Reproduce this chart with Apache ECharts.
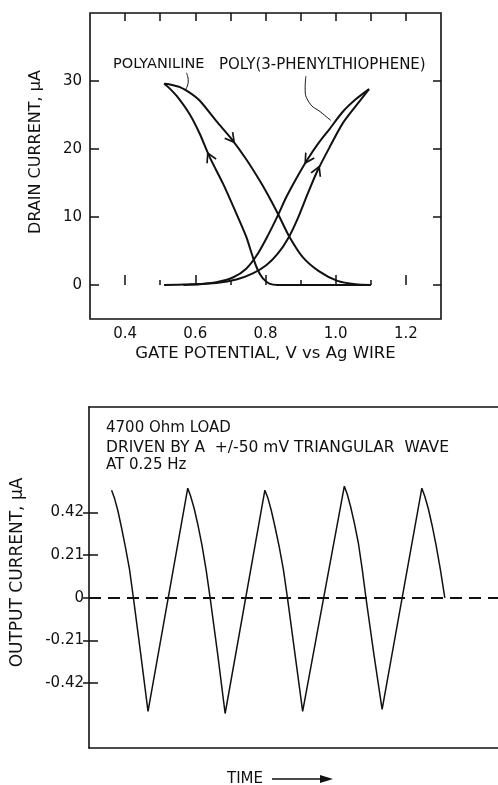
<!DOCTYPE html>
<html>
<head>
<meta charset="utf-8">
<script src="https://cdn.jsdelivr.net/npm/echarts@6/dist/echarts.min.js"></script>
<style>
  html, body { margin: 0; padding: 0; background: #fff; }
  #chart { width: 498px; height: 785px; }
</style>
</head>
<body>
<div id="chart"></div>
<script>
// 上图：聚苯胺回线（外侧下降支 / 内侧上升支）
var paniOutX = [0.511, 0.528, 0.556, 0.584, 0.613, 0.660, 0.703, 0.745, 0.783, 0.816, 0.840, 0.868, 0.906, 0.953, 1.005, 1.057, 1.100]
var paniOutY = [29.6, 29.5, 29.1, 28.3, 27.1, 24.1, 21.5, 18.5, 15.4, 12.4, 10.0, 7.1, 4.1, 2.0, 0.6, 0.1, 0]
var paniInX = [1.100, 0.950, 0.835, 0.811, 0.792, 0.778, 0.764, 0.745, 0.717, 0.679, 0.641, 0.613, 0.584, 0.547, 0.523, 0.511]
var paniInY = [0, 0, 0, 0.2, 1.0, 2.2, 4.1, 7.1, 10.5, 14.9, 18.8, 22.2, 25.1, 27.8, 29.1, 29.6]
// 聚(3-苯基噻吩)回线（上升支 / 下降支）
var p3ptUpX = [0.511, 0.584, 0.660, 0.717, 0.764, 0.802, 0.835, 0.866, 0.892, 0.920, 0.948, 0.982, 1.019, 1.057, 1.095]
var p3ptUpY = [0, 0.1, 0.3, 0.8, 1.7, 2.9, 4.6, 7.0, 9.8, 13.4, 16.8, 20.2, 23.7, 26.3, 28.8]
var p3ptDownX = [1.095, 1.057, 1.019, 0.982, 0.953, 0.920, 0.887, 0.859, 0.835, 0.807, 0.778, 0.745, 0.707, 0.660, 0.613, 0.566]
var p3ptDownY = [28.8, 27.3, 25.4, 22.9, 21.0, 18.5, 15.6, 12.9, 10.2, 7.3, 4.6, 2.4, 1.1, 0.4, 0.1, 0]
// 标注引线
var lead1X = [0.575, 0.580, 0.571]
var lead1Y = [31.2, 30.0, 28.6]
var lead2X = [0.915, 0.913, 0.925, 0.958, 0.986]
var lead2Y = [30.7, 29.0, 26.8, 25.4, 24.2]
// 刻度
var gateTicks = [0.4, 0.6, 0.8, 1.0, 1.2]
var gateMinor = [0.5, 0.7, 0.9, 1.1]
var gateTop = [0.4, 0.5, 0.6, 0.7, 0.8, 0.9, 1.0, 1.1, 1.2]
var drainTicks = [0, 10, 20, 30]

// 下图：输出电流随时间（三角波驱动）
var waveT = [1.16, 1.31, 1.48, 1.66, 1.87, 2.08, 2.28, 2.66, 3.03,
  5.07, 5.22, 5.40, 5.59, 5.80, 6.01, 6.22, 6.61, 6.99,
  9.03, 9.19, 9.36, 9.55, 9.77, 9.98, 10.19, 10.58, 10.97,
  13.11, 13.26, 13.43, 13.62, 13.83, 14.03, 14.22, 14.63, 15.05,
  17.09, 17.24, 17.42, 17.61, 17.82, 18.04, 18.27]
var waveI = [0.53, 0.49, 0.43, 0.35, 0.25, 0.14, 0.00, -0.28, -0.56,
  0.54, 0.50, 0.44, 0.36, 0.26, 0.14, 0.00, -0.28, -0.57,
  0.53, 0.49, 0.43, 0.35, 0.25, 0.14, 0.00, -0.28, -0.56,
  0.55, 0.51, 0.45, 0.37, 0.27, 0.14, 0.00, -0.28, -0.55,
  0.54, 0.50, 0.44, 0.36, 0.26, 0.14, 0.00]
var outTicks = [-0.42, -0.21, 0, 0.21, 0.42]

function pairs(xs, ys) {
  return xs.map(function (x, i) { return [x, ys[i]] })
}

var FONT = 'DejaVu Sans'
var INK = '#111'
var chevron = 'path://M0,10 L5,0 L10,10'

function arrows(list) {
  return {
    symbol: chevron,
    symbolSize: [10, 9],
    silent: true,
    itemStyle: { color: 'none', borderColor: INK, borderWidth: 1.6 },
    label: { show: false },
    data: list
  }
}

function curve(name, data, extra) {
  var s = {
    name: name,
    type: 'line',
    xAxisIndex: 0,
    yAxisIndex: 0,
    data: data,
    symbol: 'none',
    smooth: 0.25,
    silent: true,
    lineStyle: { color: INK, width: 2 }
  }
  return Object.assign(s, extra || {})
}

var tickOff = { show: false }
var frame = { show: true, onZero: false, lineStyle: { color: INK, width: 1.6 } }
var chart = echarts.init(document.getElementById('chart'))

chart.setOption({
  animation: false,
  backgroundColor: '#fff',
  textStyle: { fontFamily: FONT },
  grid: [
    { left: 90, top: 13, right: 57, bottom: 466, show: true, borderColor: INK, borderWidth: 1.6 },
    // 下图右边框在画面外，只画左、上、下三条边
    { left: 89, top: 407, right: 0, bottom: 37 }
  ],
  xAxis: [
    {
      gridIndex: 0, type: 'value', min: 0.3, max: 1.3, position: 'bottom',
      name: 'GATE POTENTIAL, V vs Ag WIRE', nameLocation: 'middle', nameGap: 26,
      nameTextStyle: { fontSize: 16.5, color: INK, fontFamily: FONT },
      axisLine: tickOff, splitLine: tickOff,
      axisTick: { inside: true, length: 10, customValues: gateTicks, lineStyle: { color: INK, width: 1.5 } },
      axisLabel: { customValues: gateTicks, margin: 8, fontSize: 15, color: INK, formatter: function (v) { return v.toFixed(1) } }
    },
    {
      gridIndex: 0, type: 'value', min: 0.3, max: 1.3, position: 'bottom',
      axisLine: tickOff, splitLine: tickOff, axisLabel: tickOff,
      axisTick: { inside: true, length: 5, customValues: gateMinor, lineStyle: { color: INK, width: 1.5 } }
    },
    {
      gridIndex: 0, type: 'value', min: 0.3, max: 1.3, position: 'top',
      axisLine: tickOff, splitLine: tickOff, axisLabel: tickOff,
      axisTick: { inside: true, length: 8, customValues: gateTop, lineStyle: { color: INK, width: 1.5 } }
    },
    {
      gridIndex: 1, type: 'value', min: 0, max: 21, position: 'bottom',
      axisLine: frame, splitLine: tickOff, axisLabel: tickOff, axisTick: tickOff
    },
    {
      gridIndex: 1, type: 'value', min: 0, max: 21, position: 'top',
      axisLine: frame, splitLine: tickOff, axisLabel: tickOff, axisTick: tickOff
    }
  ],
  yAxis: [
    {
      gridIndex: 0, type: 'value', min: -5, max: 40, position: 'left',
      name: 'DRAIN CURRENT, μA', nameLocation: 'middle', nameGap: 46,
      nameTextStyle: { fontSize: 16, color: INK, fontFamily: FONT, padding: [0, 0, 0, 28] },
      axisLine: tickOff, splitLine: tickOff,
      axisTick: { inside: true, length: 9, customValues: drainTicks, lineStyle: { color: INK, width: 1.5 } },
      axisLabel: { customValues: drainTicks, margin: 8, fontSize: 15, color: INK }
    },
    {
      gridIndex: 0, type: 'value', min: -5, max: 40, position: 'right',
      axisLine: tickOff, splitLine: tickOff, axisLabel: tickOff,
      axisTick: { inside: true, length: 8, customValues: drainTicks, lineStyle: { color: INK, width: 1.5 } }
    },
    {
      gridIndex: 1, type: 'value', min: -0.74, max: 0.94, position: 'left',
      name: 'OUTPUT CURRENT, μA', nameLocation: 'middle', nameGap: 63,
      nameTextStyle: { fontSize: 17, color: INK, fontFamily: FONT, padding: [0, 0, 0, 10] },
      axisLine: frame, splitLine: tickOff,
      axisTick: { inside: true, length: 9, customValues: outTicks, lineStyle: { color: INK, width: 1.5 } },
      axisLabel: {
        customValues: outTicks, margin: 5, fontSize: 15, color: INK,
        formatter: function (v) { return v === 0 ? '0' : v.toFixed(2) }
      }
    },
    {
      gridIndex: 1, type: 'value', min: -0.74, max: 0.94, position: 'right',
      axisLine: tickOff, splitLine: tickOff, axisLabel: tickOff,
      axisTick: { inside: true, length: 6, customValues: outTicks, lineStyle: { color: INK, width: 1.5 } }
    }
  ],
  series: [
    curve('PANI out', pairs(paniOutX, paniOutY), {
      markPoint: arrows([{ coord: [0.703, 21.5], symbolRotate: -142 }])
    }),
    curve('PANI in', pairs(paniInX, paniInY), {
      markPoint: arrows([{ coord: [0.641, 18.8], symbolRotate: 25 }])
    }),
    curve('P3PT up', pairs(p3ptUpX, p3ptUpY), {
      markPoint: arrows([{ coord: [0.948, 16.8], symbolRotate: -23 }])
    }),
    curve('P3PT down', pairs(p3ptDownX, p3ptDownY), {
      markPoint: arrows([{ coord: [0.920, 18.5], symbolRotate: 148 }])
    }),
    curve('lead1', pairs(lead1X, lead1Y), { smooth: 0.5, lineStyle: { color: INK, width: 1 } }),
    curve('lead2', pairs(lead2X, lead2Y), { smooth: 0.5, lineStyle: { color: INK, width: 1 } }),
    {
      name: 'output',
      type: 'line',
      xAxisIndex: 3,
      yAxisIndex: 2,
      data: pairs(waveT, waveI),
      symbol: 'none',
      silent: true,
      lineStyle: { color: INK, width: 1.5 },
      markLine: {
        symbol: 'none',
        silent: true,
        label: { show: false },
        lineStyle: { color: INK, width: 1.8, type: [12, 7] },
        data: [{ yAxis: 0 }]
      }
    }
  ],
  graphic: [
    { type: 'text', x: 113, y: 64, style: { text: 'POLYANILINE', font: '14.5px "DejaVu Sans"', fill: INK, verticalAlign: 'middle' } },
    { type: 'text', x: 219, y: 65, style: { text: 'POLY(3-PHENYLTHIOPHENE)', font: '15px "DejaVu Sans"', fill: INK, verticalAlign: 'middle' } },
    { type: 'text', x: 106, y: 428, style: { text: '4700 Ohm LOAD', font: '15px "DejaVu Sans"', fill: INK, verticalAlign: 'middle' } },
    { type: 'text', x: 106, y: 448, style: { text: 'DRIVEN BY A  +/-50 mV TRIANGULAR  WAVE', font: '15.5px "DejaVu Sans"', fill: INK, verticalAlign: 'middle' } },
    { type: 'text', x: 106, y: 465, style: { text: 'AT 0.25 Hz', font: '15px "DejaVu Sans"', fill: INK, verticalAlign: 'middle' } },
    { type: 'text', x: 227, y: 779, style: { text: 'TIME', font: '15px "DejaVu Sans"', fill: INK, verticalAlign: 'middle' } },
    { type: 'line', shape: { x1: 272, y1: 779, x2: 322, y2: 779 }, style: { stroke: INK, lineWidth: 1.5 } },
    { type: 'polygon', shape: { points: [[320, 775], [333, 779], [320, 783]] }, style: { fill: INK } }
  ]
})
</script>
</body>
</html>
